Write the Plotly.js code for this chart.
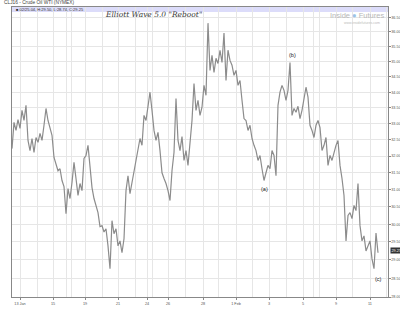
<!DOCTYPE html>
<html>
<head>
<meta charset="utf-8">
<script src="https://cdn.plot.ly/plotly-3.0.1.min.js"></script>
<style>html,body{margin:0;padding:0;background:#fff;}#chart{width:400px;height:313px;}</style>
</head>
<body>
<div id="chart"></div>
<script>
// Intraday CLJ16 prices, read left to right across the chart (one sample per bar step)
const price = [
  32.23, 33.04, 32.79, 33.13, 32.85, 33.42, 33.10, 33.58, 32.48, 32.17,
  32.54, 32.11, 32.57, 32.42, 32.70, 32.48, 32.95, 33.48, 33.10, 32.85,
  32.64, 31.96, 31.78, 31.56, 31.62, 31.27, 31.09, 30.30, 31.03, 30.74,
  31.21, 31.81, 31.33, 30.83, 31.18, 30.97, 31.93, 32.02, 32.33, 31.56,
  31.06, 30.74, 30.54, 30.33, 29.93, 29.96, 29.78, 29.87, 29.39, 28.76,
  30.10, 29.73, 29.87, 29.39, 29.53, 29.20, 29.59, 30.97, 31.41, 30.88,
  31.21, 31.56, 31.93, 32.17, 32.54, 32.33, 33.26, 33.10, 33.58, 34.00,
  33.42, 32.79, 32.48, 32.73, 32.17, 31.50, 31.33, 31.18, 30.97, 30.68,
  31.56, 32.11, 33.80, 32.48, 32.17, 32.60, 31.87, 32.17, 31.72, 32.33,
  33.10, 34.28, 33.42, 33.74, 33.26, 33.52, 34.22, 33.90, 36.30, 34.71,
  35.21, 34.64, 35.11, 34.94, 35.38, 34.97, 35.96, 34.38, 35.38, 35.04,
  34.88, 34.55, 34.71, 34.22, 34.38, 33.74, 33.16, 33.10, 32.79, 32.95,
  32.54, 32.33, 32.17, 31.87, 32.02, 31.62, 31.27, 31.50, 31.72, 31.62,
  32.17, 32.02, 31.41, 33.58, 34.00, 34.22, 34.06, 33.74, 34.06, 34.97,
  33.26, 33.48, 33.36, 33.55, 33.16, 33.42, 33.74, 34.16, 33.84, 32.95,
  32.79, 32.57, 32.95, 33.10, 32.88, 32.17, 32.33, 32.57, 31.72, 32.02,
  31.87, 32.11, 32.33, 32.48, 31.72, 31.33, 30.83, 29.53, 30.25, 30.33,
  30.16, 30.54, 30.39, 31.18, 29.96, 29.53, 29.67, 29.25, 29.39, 29.53,
  29.03, 28.76, 29.75, 29.20
];
const barIndex = price.map((_, i) => i);

// X axis: bar positions of labelled days and other day separators
const dayTickBars = [4, 20.5, 36.5, 53, 67.5, 78, 95.5, 112, 128.5, 145.5, 162, 179];
const dayTickText = ["13 Jan", "15", "19", "21", "24", "26", "28", "1 Feb", "3", "5", "9", "11"];
const otherDayBars = [12.5, 27, 29.5, 45, 61.5, 70, 86.5, 103, 120, 137, 150.5, 153.5, 170, 187];

// Y axis price levels
const priceTicks = [28, 28.5, 29, 29.5, 30, 30.5, 31, 31.5, 32, 32.5, 33, 33.5, 34, 34.5, 35, 35.5, 36, 36.5];
const priceTickText = priceTicks.map(v => v.toFixed(2));
const lastPrice = 29.25;

// Wave labels
const waveLabels = ["(a)", "(b)", "(c)"];
const waveBars = [126, 140, 183];
const wavePrices = [31.03, 35.21, 28.49];

const trace = {
  x: barIndex, y: price, type: "scatter", mode: "lines",
  line: {color: "#8c8c8c", width: 1.2}, hoverinfo: "skip"
};

const tiny = {family: "Arial, Liberation Sans, sans-serif", size: 3.8, color: "#555"};

const annotations = waveLabels.map((t, k) => ({
  x: waveBars[k], y: Math.log10(wavePrices[k]), xref: "x", yref: "y",
  text: t, showarrow: false, font: {family: "Arial, Liberation Sans, sans-serif", size: 5.5, color: "#222"}
}));
annotations.push(
  {x: 0, y: 1, xref: "paper", yref: "paper", text: "CLJ16 - Crude Oil WTI (NYMEX)", showarrow: false,
   xanchor: "left", yanchor: "bottom", xshift: -10, yshift: -0.5,
   font: {family: "Arial, Liberation Sans, sans-serif", size: 4.8, color: "#444"}},
  {x: 0.005, y: 0.992, xref: "paper", yref: "paper", text: "■ 02/25.04, H:29.50, L:28.74, C:29.25", showarrow: false,
   xanchor: "left", yanchor: "middle", font: {family: "Arial, Liberation Sans, sans-serif", size: 4, color: "#333"}},
  {x: 0.375, y: 0.974, xref: "paper", yref: "paper", text: "<i>Elliott Wave 5.0 \"Reboot\"</i>", showarrow: false,
   xanchor: "center", yanchor: "middle", font: {family: "DejaVu Serif, Liberation Serif, serif", size: 7.5, color: "#3a3a3a"}},
  {x: 0.995, y: 0.97, xref: "paper", yref: "paper", text: "Inside <span style='color:#9cc3e6'>●</span> Futures", showarrow: false,
   xanchor: "right", yanchor: "middle", font: {family: "Arial, Liberation Sans, sans-serif", size: 7.5, color: "#b8b8b8"}},
  {x: 0.985, y: 0.945, xref: "paper", yref: "paper", text: "www.insidefutures.com", showarrow: false,
   xanchor: "right", yanchor: "middle", font: {family: "Arial, Liberation Sans, sans-serif", size: 3.5, color: "#bbb"}},
  {x: 1.0, y: Math.log10(lastPrice), xref: "paper", yref: "y", text: lastPrice.toFixed(2), showarrow: false,
   xanchor: "left", yanchor: "middle", xshift: 1.5, bgcolor: "#333", borderpad: 0.5,
   font: {family: "Arial, Liberation Sans, sans-serif", size: 3.8, color: "#fff"}}
);

const layout = {
  width: 400, height: 313,
  margin: {l: 12, r: 12, t: 7, b: 16, pad: 0},
  paper_bgcolor: "#fff", plot_bgcolor: "#fff",
  showlegend: false,
  xaxis: {
    range: [0, 188], tickmode: "array", tickvals: dayTickBars, ticktext: dayTickText,
    showgrid: true, gridcolor: "#e6e6e6", gridwidth: 1, zeroline: false,
    showline: true, linecolor: "#888", linewidth: 1, mirror: true,
    ticks: "outside", ticklen: 2, tickcolor: "#888",
    tickfont: tiny,
    minor: {tickmode: "array", tickvals: otherDayBars, showgrid: true, gridcolor: "#e6e6e6", ticks: ""}
  },
  yaxis: {
    type: "log", range: [Math.log10(28), Math.log10(36.86)], side: "right",
    tickmode: "array", tickvals: priceTicks, ticktext: priceTickText,
    showgrid: true, gridcolor: "#e6e6e6", gridwidth: 1, zeroline: false,
    showline: true, linecolor: "#888", linewidth: 1, mirror: true,
    ticks: "outside", ticklen: 1.5, tickcolor: "#888",
    tickfont: tiny
  },
  shapes: [
    {type: "rect", xref: "paper", yref: "paper", x0: 0, x1: 1, y0: 0.983, y1: 1,
     fillcolor: "#dcdcfa", line: {width: 0}, layer: "below"}
  ],
  annotations: annotations
};

Plotly.newPlot("chart", [trace], layout, {displayModeBar: false, staticPlot: true});
</script>
</body>
</html>
